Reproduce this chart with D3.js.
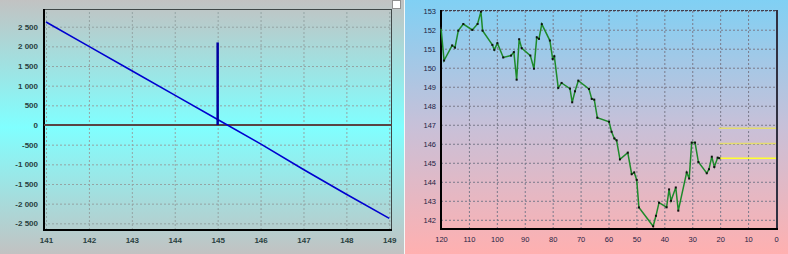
<!DOCTYPE html>
<html>
<head>
<meta charset="utf-8">
<script src="https://cdn.jsdelivr.net/npm/d3@7"></script>
<style>
body { margin: 0; background: #c0c0c0; }
svg { display: block; }
</style>
</head>
<body>
<div id="chart"></div>
<script>
// left chart: payoff line
const payoffPrice = [141, 142, 143, 144, 145, 146, 147, 148, 149];
const payoffValue = [2620, 2000, 1380, 760, 140, -480, -1130, -1760, -2375];
const barPrice = [145];
const barValue = [2100];
const leftXTicks = [141, 142, 143, 144, 145, 146, 147, 148, 149];
const leftYTicks = [-2500, -2000, -1500, -1000, -500, 0, 500, 1000, 1500, 2000, 2500];

// right chart: price history (days back, price)
const daysBack = [120, 118.9, 116, 115, 113.8, 112, 108.8, 106.9, 105.7, 105.1, 101.6, 100.9, 99.8, 97.7,
    94.9, 93.9, 92.9, 92, 91.1, 88, 86.7, 85.7, 84.9, 83.9, 81, 80, 79.4, 78, 76.8, 73.8, 73, 72, 70.8,
    67, 66, 65.1, 64, 59.8, 58.9, 57.9, 57.1, 55.9, 53.1, 51.7, 50.8, 49.9, 49.1, 44, 43, 41.9, 39.2,
    38.3, 37.6, 35.9, 35, 32, 31.1, 30.2, 29, 27.8, 24.8, 24, 23, 22.1, 20.9, 20.3];
const price = [152.1, 150.38, 151.17, 151.06, 151.95, 152.3, 151.99, 152.3, 152.95, 151.95, 151.2, 150.94, 151.29, 150.54,
    150.64, 150.82, 149.37, 151.5, 151.03, 150.64, 149.95, 151.6, 151.52, 152.29, 151.43, 150.46, 150.6, 148.94, 149.2, 148.9, 148.18, 148.76, 149.32,
    148.88, 148.36, 148.32, 147.37, 147.16, 146.63, 146.28, 146.18, 145.18, 145.53, 144.4, 144.49, 144.1, 142.65, 141.66, 142.21, 142.9, 142.66,
    143.6, 143.0, 143.7, 142.48, 144.49, 144.17, 146.06, 146.06, 145.04, 144.45, 144.66, 145.32, 144.78, 145.27, 145.24];
const levels = [146.81, 146.02, 145.24];
const levelColors = ["#e4dc70", "#e4dc70", "#ffff30"];
const levelFrom = 20.5;
const rightXTicks = [120, 110, 100, 90, 80, 70, 60, 50, 40, 30, 20, 10, 0];
const rightYTicks = [142, 143, 144, 145, 146, 147, 148, 149, 150, 151, 152, 153];

const width = 788;
const height = 254;

const svg = d3.select("#chart").append("svg")
    .attr("width", width)
    .attr("height", height);

const defs = svg.append("defs");

const gLeft = defs.append("linearGradient")
    .attr("id", "bgLeft")
    .attr("x1", 0).attr("y1", 0).attr("x2", 0).attr("y2", 1);
gLeft.append("stop").attr("offset", "0%").attr("stop-color", "#c2c2c2");
gLeft.append("stop").attr("offset", "50%").attr("stop-color", "#80ffff");
gLeft.append("stop").attr("offset", "100%").attr("stop-color", "#c2c2c2");

const gRight = defs.append("linearGradient")
    .attr("id", "bgRight")
    .attr("x1", 0).attr("y1", 0).attr("x2", 0).attr("y2", 1);
gRight.append("stop").attr("offset", "0%").attr("stop-color", "#80d0f4");
gRight.append("stop").attr("offset", "50%").attr("stop-color", "#c8c0d8");
gRight.append("stop").attr("offset", "100%").attr("stop-color", "#ffb0b0");

// backgrounds
svg.append("rect")
    .attr("x", 0).attr("y", 0)
    .attr("width", 404).attr("height", height)
    .attr("fill", "url(#bgLeft)");

svg.append("rect")
    .attr("x", 405).attr("y", 0)
    .attr("width", width - 405).attr("height", height)
    .attr("fill", "url(#bgRight)");

svg.append("line")
    .attr("x1", 404.5).attr("x2", 404.5)
    .attr("y1", 0).attr("y2", height)
    .attr("stroke", "#f4f8f8");

// little box at the top right of the left panel
svg.append("rect")
    .attr("x", 392.5).attr("y", 0.5)
    .attr("width", 8).attr("height", 8)
    .attr("fill", "#ffffff")
    .attr("stroke", "#909090");

// ---------------- left chart ----------------
const lx = d3.scaleLinear().domain([140.953, 149.063]).range([44, 392]);
const ly = d3.scaleLinear().domain([-2670, 2950]).range([230, 9]);

const left = svg.append("g");

const lxAxis = left.append("g")
    .attr("transform", "translate(0,230)")
    .call(d3.axisBottom(lx).tickValues(leftXTicks).tickSize(-221).tickPadding(7).tickFormat(d3.format("d")));
lxAxis.select(".domain").remove();
lxAxis.selectAll("line")
    .attr("stroke", "#94a4a4")
    .attr("stroke-dasharray", "2,2");

const lyAxis = left.append("g")
    .attr("transform", "translate(44,0)")
    .call(d3.axisLeft(ly).tickValues(leftYTicks).tickSize(-348).tickPadding(6)
        .tickFormat(d => d3.format(",")(d).replace(/,/g, " ").replace("−", "-")));
lyAxis.select(".domain").remove();
lyAxis.selectAll("line")
    .attr("stroke", "#94a4a4")
    .attr("stroke-dasharray", "2,2");

left.selectAll("text")
    .attr("font-family", "Liberation Sans, Arial, sans-serif")
    .attr("font-size", "8px")
    .attr("font-weight", "bold")
    .attr("fill", "#2a4040");

// frame
left.append("line")
    .attr("x1", 44).attr("x2", 392).attr("y1", 9.5).attr("y2", 9.5)
    .attr("stroke", "#404848");
left.append("line")
    .attr("x1", 391.5).attr("x2", 391.5).attr("y1", 9).attr("y2", 231)
    .attr("stroke", "#404848");
left.append("line")
    .attr("x1", 44).attr("x2", 44).attr("y1", 9).attr("y2", 231)
    .attr("stroke", "#000").attr("stroke-width", 2);
left.append("line")
    .attr("x1", 43).attr("x2", 392).attr("y1", 230).attr("y2", 230)
    .attr("stroke", "#000").attr("stroke-width", 2);

// zero line
left.append("line")
    .attr("x1", 44).attr("x2", 392)
    .attr("y1", ly(0)).attr("y2", ly(0))
    .attr("stroke", "#5a4444").attr("stroke-width", 2);

const payoffData = payoffPrice.map((p, i) => ({p: p, v: payoffValue[i]}));

left.append("path")
    .datum(payoffData)
    .attr("fill", "none")
    .attr("stroke", "#0000d0")
    .attr("stroke-width", 1.6)
    .attr("d", d3.line().x(d => lx(d.p)).y(d => ly(d.v)));

left.selectAll(".bar")
    .data(barPrice)
    .enter().append("line")
        .attr("x1", d => lx(d))
        .attr("x2", d => lx(d))
        .attr("y1", ly(0))
        .attr("y2", (d, i) => ly(barValue[i]))
        .attr("stroke", "#0000a0")
        .attr("stroke-width", 2.5);

// ---------------- right chart ----------------
const rx = d3.scaleLinear().domain([120, 0]).range([441, 776]);
const ry = d3.scaleLinear().domain([141.5, 153]).range([229.3, 10.7]);

const right = svg.append("g");

const rxAxis = right.append("g")
    .attr("transform", "translate(0,229)")
    .call(d3.axisBottom(rx).tickValues(rightXTicks).tickSize(-218).tickPadding(8).tickFormat(d3.format("d")));
rxAxis.select(".domain").remove();
rxAxis.selectAll("line")
    .attr("stroke", "#7a7a8a")
    .attr("stroke-dasharray", "2,2");

const ryAxis = right.append("g")
    .attr("transform", "translate(441,0)")
    .call(d3.axisLeft(ry).tickValues(rightYTicks).tickSize(-336).tickPadding(5).tickFormat(d3.format("d")));
ryAxis.select(".domain").remove();
ryAxis.selectAll("line")
    .attr("stroke", "#7a7a8a")
    .attr("stroke-dasharray", "2,2");

right.selectAll("text")
    .attr("font-family", "Liberation Sans, Arial, sans-serif")
    .attr("font-size", "7.5px")
    .attr("fill", "#1e1e44");

// frame
right.append("line")
    .attr("x1", 441).attr("x2", 777).attr("y1", 10.5).attr("y2", 10.5)
    .attr("stroke", "#404050")
    .attr("stroke-dasharray", "3,1");
right.append("line")
    .attr("x1", 777).attr("x2", 777).attr("y1", 10).attr("y2", 230)
    .attr("stroke", "#303040").attr("stroke-width", 2);
right.append("line")
    .attr("x1", 441).attr("x2", 441).attr("y1", 10).attr("y2", 230)
    .attr("stroke", "#000").attr("stroke-width", 2);
right.append("line")
    .attr("x1", 440).attr("x2", 778).attr("y1", 229).attr("y2", 229)
    .attr("stroke", "#000").attr("stroke-width", 2);

// level lines
right.selectAll(".level")
    .data(levels)
    .enter().append("line")
        .attr("x1", rx(levelFrom))
        .attr("x2", rx(0))
        .attr("y1", d => ry(d))
        .attr("y2", d => ry(d))
        .attr("stroke", (d, i) => levelColors[i])
        .attr("stroke-width", 1.5);

const priceData = daysBack.map((d, i) => ({d: d, v: price[i]}));

right.append("path")
    .datum(priceData)
    .attr("fill", "none")
    .attr("stroke", "#1e8a2a")
    .attr("stroke-width", 1.5)
    .attr("d", d3.line().x(d => rx(d.d)).y(d => ry(d.v)));

right.selectAll(".dot")
    .data(priceData)
    .enter().append("rect")
        .attr("x", d => rx(d.d) - 1)
        .attr("y", d => ry(d.v) - 1)
        .attr("width", 2)
        .attr("height", 2)
        .attr("fill", "#101010");
</script>
</body>
</html>
